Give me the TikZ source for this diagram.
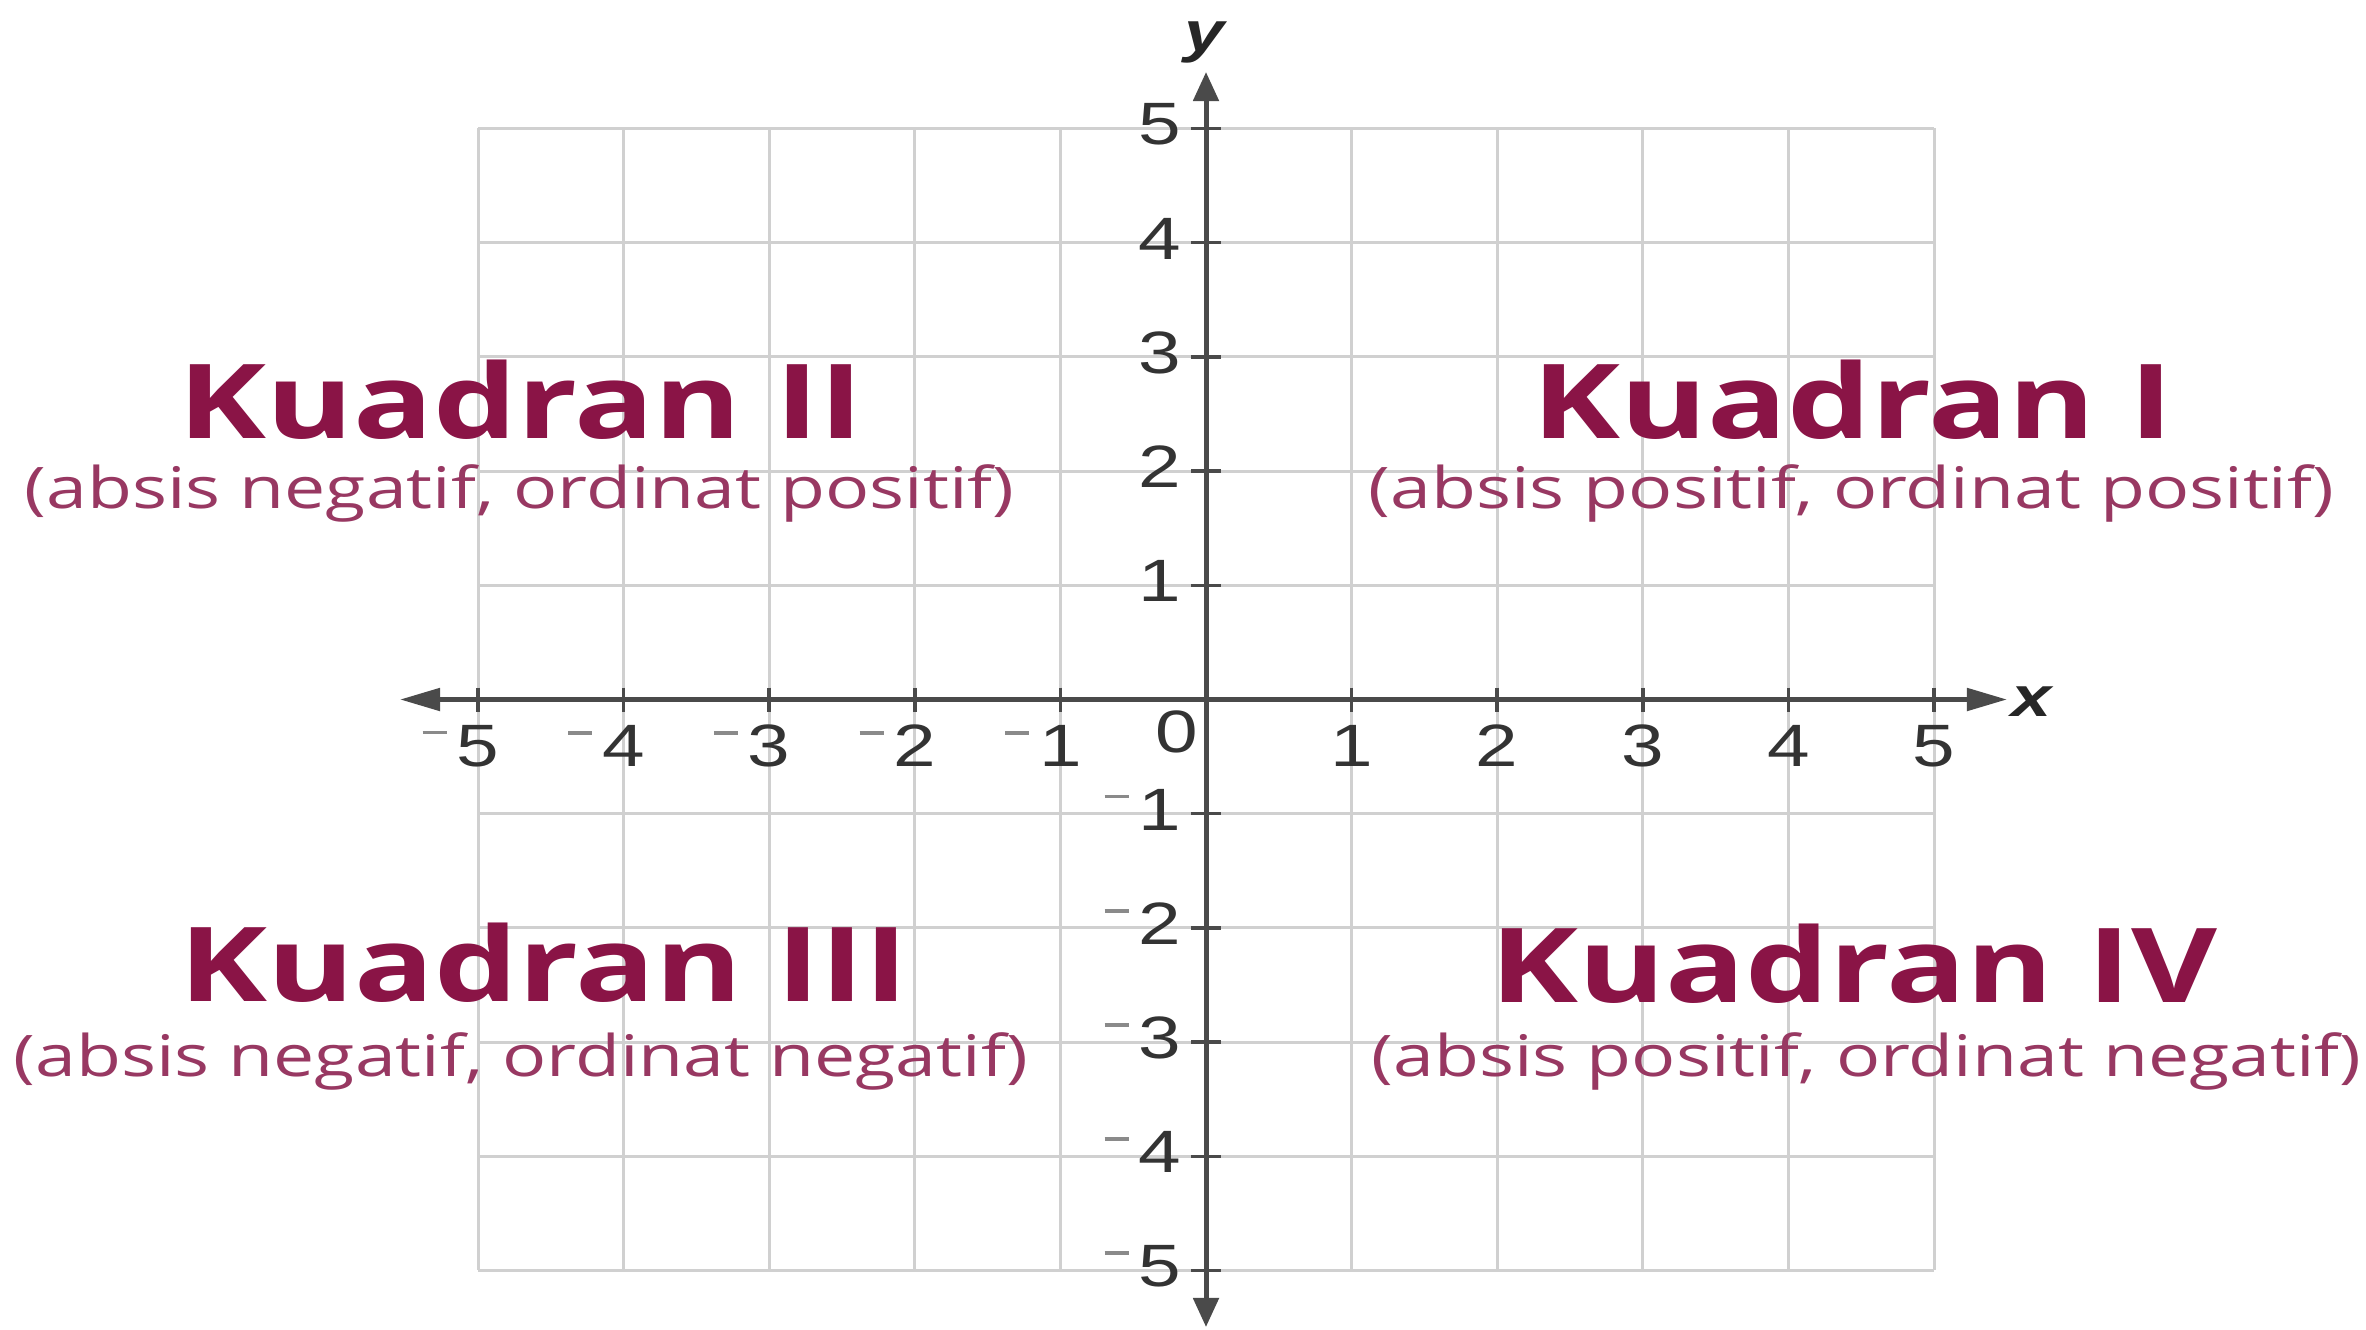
\documentclass[tikz,border=0pt]{standalone}
\usepackage{fontspec}
\setmainfont{Open Sans}
\newfontfamily\numfont{Liberation Sans}
\usetikzlibrary{arrows.meta}
\definecolor{qtitlec}{HTML}{8A1446}
\definecolor{qsubc}{HTML}{983862}
\definecolor{gridc}{HTML}{D0D0D0}
\definecolor{axisc}{HTML}{4A4A4A}
\definecolor{numc}{HTML}{333333}
\definecolor{minc}{HTML}{8A8A8A}
\newcommand\stretchx[1]{\scalebox{1.28}[1]{#1}}
\newcommand\negmark{\llap{\textcolor{minc}{\rule[0.32cm]{0.24cm}{0.035cm}}\hspace{0.1cm}}}
\begin{document}
\begin{tikzpicture}[x=0.01cm,y=-0.01cm,
  gridline/.style={draw=gridc,line width=0.03cm},
  axisline/.style={draw=axisc,line width=0.05cm},
  tickmark/.style={draw=axisc,line width=0.035cm},
  numlab/.style={inner sep=0pt,text=numc,font=\numfont\fontsize{17}{17}\selectfont},
  axlab/.style={inner sep=0pt,text=black!85,font=\numfont\bfseries\itshape\fontsize{16}{16}\selectfont},
  qt/.style={inner sep=0pt,anchor=base west,text=qtitlec,font=\bfseries\fontsize{29.4}{29.4}\selectfont},
  qs/.style={inner sep=0pt,anchor=base west,text=qsubc,font=\fontsize{16.3}{16.3}\selectfont}]
\useasboundingbox[fill=white] (0,0) rectangle (2366,1330);
% grid
\foreach \i in {-5,...,5} {
  \draw[gridline] ({1206+145.6*\i},128) -- ({1206+145.6*\i},1270);
  \draw[gridline] (478,{699.5-114.2*\i}) -- (1934,{699.5-114.2*\i});
}
% axes
\coordinate (xleft) at (400,699.5);
\coordinate (xright) at (2007,699.5);
\coordinate (ytop) at (1206,72);
\coordinate (ybot) at (1206,1327);
\draw[axisline,{Triangle[length=0.40cm,width=0.22cm]}-{Triangle[length=0.40cm,width=0.22cm]}] (xleft) -- (xright);
\draw[axisline,{Triangle[length=0.29cm,width=0.25cm]}-{Triangle[length=0.29cm,width=0.25cm]}] (ybot) -- (ytop);
% ticks
\foreach \i in {-5,...,-1,1,2,3,4,5} {
  \draw[tickmark] ({1206+145.6*\i},687.5) -- ({1206+145.6*\i},711.5);
  \draw[tickmark] (1191,{699.5-114.2*\i}) -- (1221,{699.5-114.2*\i});
}
% tick labels
\foreach \i in {1,...,5} {
  \node[numlab] (xp\i) at ({1206+145.6*\i},746) {\stretchx{\i}};
  \node[numlab] (xn\i) at ({1206-145.6*\i},746) {\negmark\stretchx{\i}};
  \node[numlab,anchor=east] (yp\i) at (1182,{699.5-114.2*\i-4}) {\stretchx{\i}};
  \node[numlab,anchor=east] (yn\i) at (1182,{699.5+114.2*\i-4}) {\negmark\stretchx{\i}};
}
\node[numlab] (zero) at (1177,732) {\stretchx{0}};
\node[axlab] (xlab) at (2032,702) {\stretchx{x}};
\node[axlab] (ylab) at (1205,42) {\stretchx{y}};
% quadrant labels
\node[qt] (q2) at (178,438) {\stretchx{Kuadran II}};
\node[qs] (q2s) at (24,508) {\stretchx{(absis negatif, ordinat positif)}};
\node[qt] (q1) at (1532,438) {\stretchx{Kuadran I}};
\node[qs] (q1s) at (1368,508) {\stretchx{(absis positif, ordinat positif)}};
\node[qt] (q3) at (179,1001) {\stretchx{Kuadran III}};
\node[qs] (q3s) at (13,1076) {\stretchx{(absis negatif, ordinat negatif)}};
\node[qt] (q4) at (1490,1002) {\stretchx{Kuadran IV}};
\node[qs] (q4s) at (1371,1076) {\stretchx{(absis positif, ordinat negatif)}};
\end{tikzpicture}
\end{document}
